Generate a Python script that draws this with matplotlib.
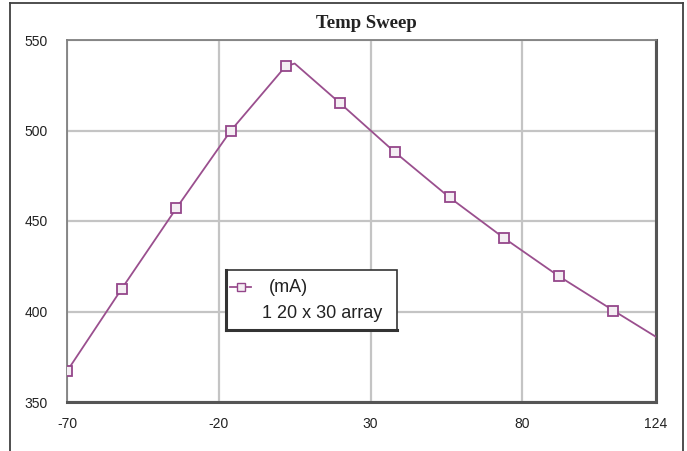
import matplotlib
matplotlib.use("Agg")
import matplotlib.pyplot as plt
from matplotlib.lines import Line2D
from matplotlib.patches import Rectangle

# Data
temps = [-70, -52, -34, -16, 2, 5, 20, 38, 56, 74, 92, 110, 124]
current_ma = [367, 412.5, 457, 500, 535.5, 537, 515, 488, 463, 440.5, 419.5, 400.5, 386]
marker_idx = [0, 1, 2, 3, 4, 6, 7, 8, 9, 10, 11]
x_ticks = [-70, -20, 30, 80, 124]
y_ticks = [350, 400, 450, 500, 550]
title = "Temp Sweep"
legend_lines = ["(mA)", "1 20 x 30 array"]

W, H = 687, 451
fig = plt.figure(figsize=(W / 100, H / 100), dpi=100)
fig.patch.set_facecolor("white")

# outer frame
frame_col = "#404040"
fig.add_artist(Line2D([10 / W, 10 / W], [0, 1 - 3 / H], transform=fig.transFigure, color=frame_col, lw=1.3))
fig.add_artist(Line2D([10 / W, 683 / W], [1 - 3 / H, 1 - 3 / H], transform=fig.transFigure, color=frame_col, lw=1.3))
fig.add_artist(Line2D([683 / W, 683 / W], [0, 1 - 3 / H], transform=fig.transFigure, color=frame_col, lw=1.3))

left, right, top, bottom = 67, 656, 40, 402
ax = fig.add_axes([left / W, 1 - bottom / H, (right - left) / W, (bottom - top) / H])
ax.set_xlim(-70, 124)
ax.set_ylim(350, 550)
ax.set_xticks(x_ticks)
ax.set_yticks(y_ticks)
tick_font = dict(fontsize=10, family="Liberation Sans", color="#222222", fontstretch="condensed")
ax.set_xticklabels([str(t) for t in x_ticks], **tick_font)
ax.set_yticklabels([str(t) for t in y_ticks], **tick_font)
ax.tick_params(axis="x", length=0, pad=11)
ax.tick_params(axis="y", length=0, pad=14)
ax.grid(True, color="#c4c4c4", lw=1.6)
ax.set_axisbelow(True)
for s in ["left", "top"]:
    ax.spines[s].set_color("#808080")
    ax.spines[s].set_linewidth(1.3)
for s in ["right", "bottom"]:
    ax.spines[s].set_color("#555555")
    ax.spines[s].set_linewidth(2.2)

line_col = "#9a4f8e"
ax.plot(temps, current_ma, color=line_col, lw=1.3, marker="s", markevery=marker_idx,
        markersize=7, markerfacecolor="#f4eef3", markeredgecolor="#94468a", markeredgewidth=1.3,
        zorder=3, clip_on=True)

fig.text(366 / W, 1 - 23 / H, title, ha="center", va="center", fontsize=13.5,
         fontweight="bold", family="Liberation Serif", color="#222222")

# legend box
lx0, lx1, ly0, ly1 = 226, 397, 270, 330
fig.add_artist(Rectangle((lx0 / W, 1 - ly1 / H), (lx1 - lx0) / W, (ly1 - ly0) / H,
                         transform=fig.transFigure, facecolor="white", edgecolor="#333333", lw=1.2, zorder=5))
fig.add_artist(Line2D([lx0 / W, lx0 / W], [1 - ly1 / H, 1 - ly0 / H], transform=fig.transFigure,
                      color="#333333", lw=2.2, zorder=6))
fig.add_artist(Line2D([lx0 / W, lx1 / W], [1 - ly1 / H, 1 - ly1 / H], transform=fig.transFigure,
                      color="#333333", lw=2.2, zorder=6))
fig.add_artist(Line2D([230 / W, 241 / W, 251 / W], [1 - 287 / H] * 3, transform=fig.transFigure,
                      color=line_col, lw=1.3, marker="s", markevery=[1], markersize=6,
                      markerfacecolor="#f4eef3", markeredgecolor="#94468a", zorder=7))
fig.text(269 / W, 1 - 287 / H, legend_lines[0], ha="left", va="center", fontsize=13,
         family="Liberation Sans", color="#222222", zorder=8)
fig.text(262 / W, 1 - 314 / H, legend_lines[1], ha="left", va="center", fontsize=13,
         family="Liberation Sans", color="#222222", zorder=8)

fig.savefig("out.png", dpi=100)
